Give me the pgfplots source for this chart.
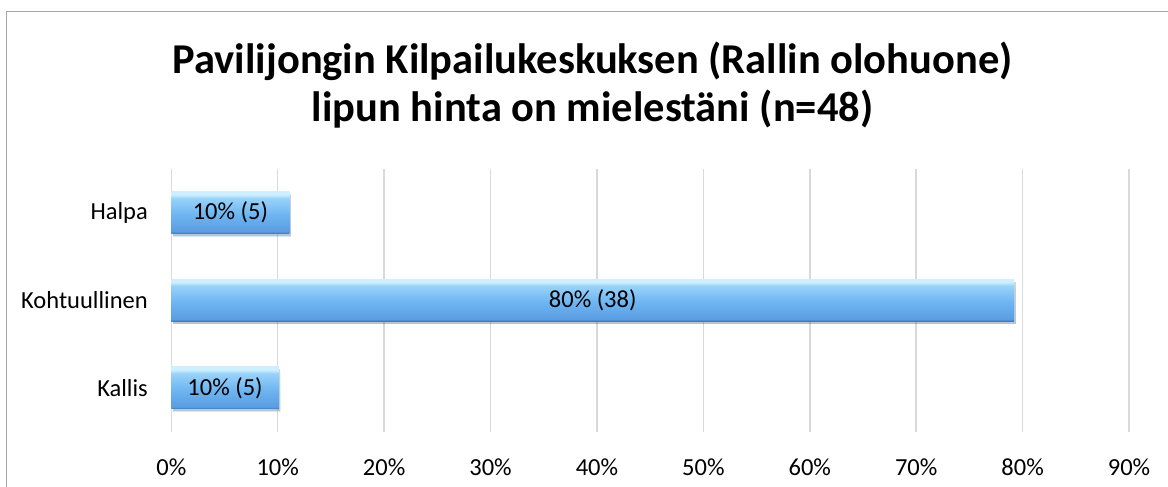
\documentclass[border=0pt]{standalone}
\usepackage{fontspec}
\setmainfont{Carlito}
\usepackage{pgfplots}
\pgfplotsset{compat=1.18}
\definecolor{gridc}{HTML}{D9D9D9}
\definecolor{framec}{HTML}{A6A6A6}
\definecolor{b0}{HTML}{3A74B4}
\definecolor{b1}{HTML}{5A9DE2}
\definecolor{b2}{HTML}{6DB4F1}
\definecolor{b3}{HTML}{98D2FA}
\definecolor{b4}{HTML}{CDEFFF}
\pgfdeclareverticalshading{barshade}{100bp}{color(0bp)=(b0); color(25bp)=(b0); color(27.5bp)=(b1); color(47bp)=(b2); color(67bp)=(b3); color(71.5bp)=(b4); color(75bp)=(b4); color(100bp)=(b4)}
\pgfplotstableread{
y v lab
0 10.1 {10\% (5)}
}\tkallis
\pgfplotstableread{
y v lab
1 79.2 {80\% (38)}
}\tkoht
\pgfplotstableread{
y v lab
2 11.1 {10\% (5)}
}\thalpa
\pgfplotsset{
  mybar/.style={xbar, bar shift=0pt, draw=none, shade, shading=barshade,
    preaction={fill=black, opacity=0.18, transform canvas={shift={(1.5pt,-2.5pt)}}},
    nodes near coords, point meta=explicit symbolic,
    visualization depends on=rawx \as \rawx,
    every node near coord/.append style={anchor=center, text=black,
      font=\fontsize{24.5}{29}\selectfont,
      shift={(axis direction cs:-\rawx/2,0)}}},
}
\begin{document}
\begin{tikzpicture}[x=1pt,y=1pt]
\useasboundingbox (0,0) rectangle (1168,487);
\fill[white] (0,0) rectangle (1168,487);
\draw[color=framec, line width=1.8pt] (6.5,-2) -- (6.5,475.5) -- (1170,475.5);
\node[font=\fontsize{42.5}{50}\selectfont\bfseries, anchor=base] at (592.5,413.5) {Pavilijongin Kilpailukeskuksen (Rallin olohuone)};
\node[font=\fontsize{42.5}{50}\selectfont\bfseries, anchor=base] at (592.5,365.5) {lipun hinta on mielestäni (n=48)};
\begin{axis}[
  at={(161,63)}, anchor=south west,
  width=957.7pt, height=263pt, scale only axis,
  xmin=0, xmax=90, ymin=-0.5, ymax=2.5,
  bar width=0.48,
  ytick={0,1,2}, yticklabels={Kallis,Kohtuullinen,Halpa},
  xtick={0,10,...,90},
  xticklabels={0\%,10\%,20\%,30\%,40\%,50\%,60\%,70\%,80\%,90\%},
  xmajorgrids, grid style={color=gridc, line width=1.5pt},
  axis line style={draw=none},
  major tick length=0pt,
  tick label style={font=\fontsize{24.5}{29}\selectfont, text=black},
  xticklabel style={anchor=base, yshift=-43.5pt},
  yticklabel style={anchor=east, xshift=-20pt},
  clip=false,
]
\addplot[mybar] table[x=v, y=y, meta=lab] {\tkallis};
\addplot[mybar] table[x=v, y=y, meta=lab] {\tkoht};
\addplot[mybar] table[x=v, y=y, meta=lab] {\thalpa};
\end{axis}
\end{tikzpicture}
\end{document}
